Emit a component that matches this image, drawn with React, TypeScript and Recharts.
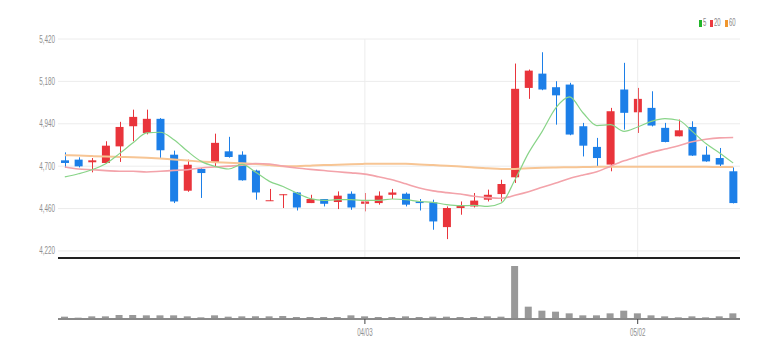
import { ComposedChart, Bar, Line, XAxis, YAxis, CartesianGrid, ReferenceLine } from 'recharts'

const dates = [
  '03/02', '03/03', '03/06', '03/07', '03/08', '03/09', '03/10', '03/13', '03/14', '03/15',
  '03/16', '03/17', '03/20', '03/21', '03/22', '03/23', '03/24', '03/27', '03/28', '03/29',
  '03/30', '03/31', '04/03', '04/04', '04/05', '04/06', '04/07', '04/10', '04/11', '04/12',
  '04/13', '04/14', '04/17', '04/18', '04/19', '04/20', '04/21', '04/24', '04/25', '04/26',
  '04/27', '04/28', '05/02', '05/03', '05/04', '05/08', '05/09', '05/10', '05/11', '05/12',
]

const opens = [
  4733, 4737, 4722, 4718, 4812, 4926, 4888, 4968, 4765, 4561,
  4684, 4718, 4784, 4765, 4675, 4503, 4538, 4551, 4491, 4514,
  4497, 4544, 4487, 4491, 4538, 4544, 4500, 4495, 4355, 4463,
  4472, 4510, 4542, 4637, 5143, 5224, 5147, 5162, 4926, 4809,
  4709, 5134, 5005, 5030, 4917, 4869, 4922, 4765, 4746, 4671,
]
const highs = [
  4778, 4750, 4746, 4841, 4951, 5020, 5020, 4972, 4788, 4737,
  4690, 4884, 4866, 4784, 4680, 4571, 4541, 4553, 4538, 4514,
  4557, 4557, 4548, 4557, 4571, 4551, 4514, 4510, 4472, 4500,
  4548, 4567, 4623, 5281, 5247, 5345, 5181, 5172, 4945, 4860,
  5030, 5285, 5143, 5124, 4945, 4964, 4954, 4812, 4803, 4693,
]
const lows = [
  4690, 4693, 4665, 4715, 4724, 4841, 4880, 4746, 4491, 4555,
  4520, 4699, 4748, 4618, 4510, 4503, 4463, 4449, 4491, 4472,
  4457, 4453, 4444, 4482, 4514, 4472, 4449, 4340, 4287, 4425,
  4466, 4500, 4500, 4605, 5081, 5130, 4935, 4875, 4755, 4699,
  4671, 4907, 4888, 4925, 4835, 4869, 4758, 4725, 4693, 4489,
]
const closes = [
  4718, 4699, 4733, 4816, 4922, 4979, 4968, 4790, 4500, 4708,
  4661, 4832, 4752, 4620, 4551, 4507, 4541, 4466, 4514, 4487,
  4533, 4466, 4500, 4533, 4551, 4482, 4491, 4387, 4463, 4476,
  4505, 4538, 4599, 5138, 5241, 5134, 5101, 4879, 4816, 4746,
  5011, 5002, 5081, 4930, 4837, 4903, 4760, 4727, 4709, 4491,
]
const volumes = [
  70000, 40000, 80000, 80000, 120000, 120000, 110000, 110000, 110000, 80000,
  50000, 110000, 70000, 80000, 80000, 80000, 90000, 60000, 60000, 60000,
  60000, 110000, 80000, 60000, 60000, 80000, 60000, 70000, 70000, 60000,
  60000, 80000, 70000, 1590000, 370000, 250000, 220000, 170000, 110000, 110000,
  170000, 250000, 170000, 110000, 80000, 50000, 80000, 50000, 80000, 170000,
]

const ma5 = [
  4639, 4657, 4680, 4714, 4771, 4832, 4888, 4892, 4850, 4784,
  4727, 4699, 4684, 4710, 4665, 4614, 4585, 4548, 4516, 4506,
  4510, 4510, 4506, 4506, 4514, 4510, 4500, 4495, 4482, 4476,
  4478, 4472, 4491, 4623, 4775, 4897, 5030, 5092, 5001, 4930,
  4935, 4897, 4922, 4954, 4969, 4960, 4897, 4828, 4775, 4718,
]
const ma20 = [
  4695, 4684, 4680, 4675, 4671, 4671, 4667, 4671, 4676, 4680,
  4690, 4695, 4700, 4705, 4715, 4712, 4700, 4690, 4682, 4675,
  4668, 4662, 4655, 4640, 4623, 4600, 4576, 4560, 4550, 4542,
  4530, 4522, 4518, 4535, 4555, 4580, 4605, 4630, 4650, 4668,
  4700, 4730, 4755, 4778, 4797, 4816, 4838, 4852, 4860, 4862,
]
const ma60 = [
  4762, 4760, 4757, 4754, 4752, 4750, 4747, 4743, 4738, 4732,
  4726, 4722, 4719, 4716, 4712, 4706, 4700, 4700, 4703, 4706,
  4708, 4711, 4713, 4714, 4714, 4713, 4710, 4706, 4702, 4698,
  4692, 4688, 4684, 4684, 4688, 4691, 4693, 4694, 4695, 4696,
  4697, 4697, 4697, 4697, 4697, 4696, 4696, 4696, 4695, 4695,
]

const priceTicks = [4220, 4460, 4700, 4940, 5180, 5420]
const dateTicks = ['04/03', '05/02']
const maLabels = ['5', '20', '60']
const maLegendColors = ['#22b52a', '#ec3a40', '#f0962e']

const UP = '#e9343b'
const DOWN = '#1c7fe8'
const FONT = "'Liberation Sans', Arial, sans-serif"

const data = dates.map((date, i) => ({
  date,
  open: opens[i],
  high: highs[i],
  low: lows[i],
  close: closes[i],
  range: [lows[i], highs[i]],
  volume: volumes[i],
  ma5: ma5[i],
  ma20: ma20[i],
  ma60: ma60[i],
}))

const fmt = (v: number) => String(v).replace(/\B(?=(\d{3})+(?!\d))/g, ',')

function Candle(props: any) {
  const { x, y, width, height, payload } = props
  const { open, close, high, low } = payload
  const color = close >= open ? UP : DOWN
  const ratio = high > low ? height / (high - low) : 0
  const top = y + (high - Math.max(open, close)) * ratio
  const bodyH = Math.max(1, Math.abs(open - close) * ratio)
  const cx = Math.round(x + width / 2) + 0.5
  return (
    <g>
      <line x1={cx} x2={cx} y1={y} y2={y + height} stroke={color} strokeWidth={1} />
      <rect x={x} y={top} width={width} height={bodyH} fill={color} />
    </g>
  )
}

function PriceTick({ x, y, payload }: any) {
  return (
    <g transform={`translate(${x},${y})`}>
      <text transform="scale(0.63,1)" textAnchor="end" dy="0.35em" fontSize={10} fill="#8f8f8f" fontFamily={FONT}>
        {fmt(payload.value)}
      </text>
    </g>
  )
}

function DateTick({ x, y, payload }: any) {
  return (
    <g transform={`translate(${x},${y})`}>
      <text transform="scale(0.62,1)" textAnchor="middle" dy="0.71em" fontSize={10} fill="#8f8f8f" fontFamily={FONT}>
        {payload.value}
      </text>
    </g>
  )
}

// small "■5 ■20 ■60" key in the top right corner
function MaLegend() {
  return (
    <div style={{ position: 'absolute', left: 699, top: 18, display: 'flex', alignItems: 'center', fontFamily: FONT, fontSize: 10, lineHeight: '10px', color: '#888' }}>
      {maLabels.map((label, i) => (
        <div key={label} style={{ display: 'flex', alignItems: 'center', marginRight: 4 }}>
          <span style={{ display: 'inline-block', width: 3, height: 7, background: maLegendColors[i], marginRight: 1 }} />
          <span style={{ display: 'inline-block', transform: 'scaleX(0.6)', transformOrigin: 'left center', width: label.length * 3.4 }}>{label}</span>
        </div>
      ))}
    </div>
  )
}

export default function App() {
  return (
    <div style={{ position: 'absolute', left: 0, top: 0, width: 780, height: 359, background: '#fff' }}>
      <MaLegend />
      <div style={{ position: 'absolute', left: 0, top: 0 }}>
        <ComposedChart width={780} height={260} data={data} margin={{ top: 39, right: 40, left: 0, bottom: 0 }}>
          <CartesianGrid vertical={false} stroke="#ececec" />
          <ReferenceLine x="04/03" stroke="#ececec" />
          <ReferenceLine x="05/02" stroke="#ececec" />
          <XAxis dataKey="date" height={2} tick={false} tickLine={false} axisLine={{ stroke: '#222', strokeWidth: 2 }} />
          <YAxis
            width={58}
            domain={[4180, 5420]}
            ticks={priceTicks}
            allowDataOverflow
            axisLine={false}
            tickLine={false}
            tickSize={0}
            tickMargin={3}
            tick={<PriceTick />}
          />
          <Line type="monotone" dataKey="ma60" stroke="#f7c594" strokeWidth={2} dot={false} activeDot={false} isAnimationActive={false} />
          <Line type="monotone" dataKey="ma20" stroke="#f3a3aa" strokeWidth={1.6} dot={false} activeDot={false} isAnimationActive={false} />
          <Line type="monotone" dataKey="ma5" stroke="#88d488" strokeWidth={1.2} dot={false} activeDot={false} isAnimationActive={false} />
          <Bar dataKey="range" barSize={8} shape={<Candle />} isAnimationActive={false} />
        </ComposedChart>
      </div>
      <div style={{ position: 'absolute', left: 0, top: 260 }}>
        <ComposedChart width={780} height={99} data={data} margin={{ top: 2, right: 40, left: 58, bottom: 0 }}>
          <XAxis
            dataKey="date"
            height={40}
            ticks={dateTicks}
            interval={0}
            tickSize={5}
            tickMargin={5}
            tickLine={{ stroke: '#444' }}
            axisLine={{ stroke: '#8a8a8a', strokeWidth: 2 }}
            tick={<DateTick />}
          />
          <YAxis hide domain={[0, 1710000]} allowDataOverflow />
          <Bar dataKey="volume" barSize={7} fill="#999" isAnimationActive={false} />
        </ComposedChart>
      </div>
    </div>
  )
}
